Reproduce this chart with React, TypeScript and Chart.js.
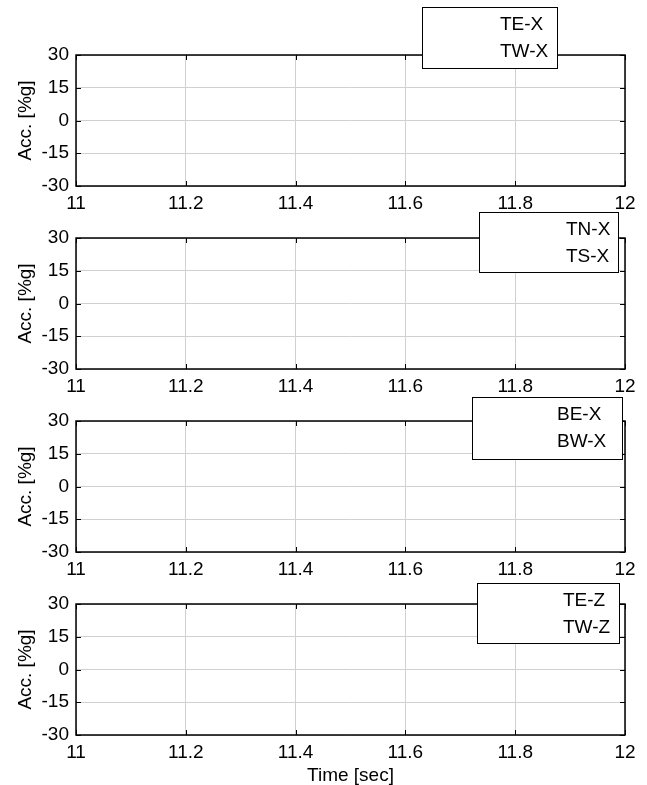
import React, { useEffect, useRef } from "react";
import { Chart, registerables } from "chart.js";

Chart.register(...registerables);

const FONT = '"Liberation Sans", Arial, Helvetica, sans-serif';
const FONT_SIZE = 19;
const PAGE_W = 647;
const PAGE_H = 785;

// Shared axes
const timeMin = 11;
const timeMax = 12;
const timeStep = 0.2;
const accMin = -30;
const accMax = 30;
const accStep = 15;
const timeLabel = "Time [sec]";
const accLabel = "Acc. [%g]";

// Channel names, one pair per panel
const panel1Channels = ["TE-X", "TW-X"];
const panel2Channels = ["TN-X", "TS-X"];
const panel3Channels = ["BE-X", "BW-X"];
const panel4Channels = ["TE-Z", "TW-Z"];

// Samples inside the 11–12 s window (no channel has a sample here)
const timeSamples: number[] = [];
const teXAcc: number[] = [];
const twXAcc: number[] = [];
const tnXAcc: number[] = [];
const tsXAcc: number[] = [];
const beXAcc: number[] = [];
const bwXAcc: number[] = [];
const teZAcc: number[] = [];
const twZAcc: number[] = [];

const seriesColors = ["#0000ff", "#ff0000"];

type LegendBox = { right: number; top: number; width: number; height: number; textLeft: number };
type PanelCfg = {
  channels: string[];
  series: number[][];
  top: number;
  height: number;
  xAxisHeight: number;
  showTimeTitle: boolean;
  legend: LegendBox;
};

const panels: PanelCfg[] = [
  {
    channels: panel1Channels,
    series: [teXAcc, twXAcc],
    top: 55,
    height: 131,
    xAxisHeight: 40,
    showTimeTitle: false,
    legend: { right: 68, top: -48, width: 135, height: 61, textLeft: 78 },
  },
  {
    channels: panel2Channels,
    series: [tnXAcc, tsXAcc],
    top: 238,
    height: 131,
    xAxisHeight: 40,
    showTimeTitle: false,
    legend: { right: 7, top: -26, width: 139, height: 60, textLeft: 87 },
  },
  {
    channels: panel3Channels,
    series: [beXAcc, bwXAcc],
    top: 421,
    height: 131,
    xAxisHeight: 40,
    showTimeTitle: false,
    legend: { right: 3, top: -24, width: 150, height: 62, textLeft: 85 },
  },
  {
    channels: panel4Channels,
    series: [teZAcc, twZAcc],
    top: 604,
    height: 131,
    xAxisHeight: 50,
    showTimeTitle: true,
    legend: { right: 6, top: -21, width: 142, height: 60, textLeft: 86 },
  },
];

function makeFramePlugin(cfg: PanelCfg) {
  return {
    id: "panelFrame",
    afterDraw(chart: any) {
      const { ctx, chartArea } = chart;
      const { left, top, right, bottom } = chartArea;
      const xs = chart.scales.x;
      const ys = chart.scales.y;
      ctx.save();

      // inward tick marks on all four sides
      ctx.strokeStyle = "#000";
      ctx.lineWidth = 1;
      const tickLen = 5;
      ctx.beginPath();
      xs.ticks.forEach((t: any) => {
        const px = Math.round(xs.getPixelForValue(t.value)) + 0.5;
        ctx.moveTo(px, bottom);
        ctx.lineTo(px, bottom - tickLen);
        ctx.moveTo(px, top);
        ctx.lineTo(px, top + tickLen);
      });
      ys.ticks.forEach((t: any) => {
        const py = Math.round(ys.getPixelForValue(t.value)) + 0.5;
        ctx.moveTo(left, py);
        ctx.lineTo(left + tickLen, py);
        ctx.moveTo(right, py);
        ctx.lineTo(right - tickLen, py);
      });
      ctx.stroke();

      // axes box
      ctx.lineWidth = 1.5;
      ctx.strokeRect(left, top, right - left, bottom - top);

      // legend
      const lg = cfg.legend;
      const bx = Math.round(right - lg.right - lg.width);
      const by = Math.round(top + lg.top);
      ctx.fillStyle = "#fff";
      ctx.fillRect(bx, by, lg.width, lg.height);
      ctx.lineWidth = 1;
      ctx.strokeStyle = "#000";
      ctx.strokeRect(bx + 0.5, by + 0.5, lg.width, lg.height);
      ctx.fillStyle = "#000";
      ctx.font = `${FONT_SIZE}px ${FONT}`;
      ctx.textAlign = "left";
      ctx.textBaseline = "middle";
      const rowY = [18, 44.7];
      chart.data.datasets.forEach((ds: any, i: number) => {
        ctx.fillText(ds.label, bx + lg.textLeft, by + rowY[i]);
      });
      ctx.restore();
    },
  };
}

function Panel({ cfg }: { cfg: PanelCfg }) {
  const ref = useRef<HTMLCanvasElement>(null);

  useEffect(() => {
    const canvas = ref.current;
    if (!canvas) return;
    const bottomPad = PAGE_H - (cfg.top + cfg.height) - cfg.xAxisHeight;
    const chart = new Chart(canvas, {
      type: "line",
      data: {
        datasets: cfg.channels.map((name, i) => ({
          label: name,
          data: timeSamples.map((t, k) => ({ x: t, y: cfg.series[i][k] })),
          borderColor: seriesColors[i],
          borderWidth: 1,
          pointRadius: 0,
          fill: false,
        })),
      },
      options: {
        animation: false,
        responsive: false,
        devicePixelRatio: 1,
        layout: {
          padding: { left: 0, right: PAGE_W - 625, top: cfg.top, bottom: bottomPad },
        },
        plugins: {
          legend: { display: false },
          tooltip: { enabled: false },
        },
        scales: {
          x: {
            type: "linear",
            min: timeMin,
            max: timeMax,
            grid: { color: "#d0d0d0", lineWidth: 1, drawTicks: false },
            border: { display: false },
            ticks: {
              stepSize: timeStep,
              autoSkip: false,
              maxRotation: 0,
              padding: 6,
              color: "#000",
              font: { family: FONT, size: FONT_SIZE },
              callback: (v: any) => String(Number(Number(v).toFixed(1))),
            },
            title: {
              display: cfg.showTimeTitle,
              text: timeLabel,
              color: "#000",
              font: { family: FONT, size: FONT_SIZE, lineHeight: 1 },
              padding: { top: 0, bottom: 0 },
            },
            afterFit: (s: any) => {
              s.height = cfg.xAxisHeight;
            },
          },
          y: {
            type: "linear",
            min: accMin,
            max: accMax,
            grid: { color: "#d0d0d0", lineWidth: 1, drawTicks: false },
            border: { display: false },
            ticks: {
              stepSize: accStep,
              padding: 7,
              color: "#000",
              font: { family: FONT, size: FONT_SIZE },
            },
            title: {
              display: true,
              text: accLabel,
              color: "#000",
              font: { family: FONT, size: FONT_SIZE, lineHeight: 1 },
              padding: { top: 16, bottom: 0 },
            },
            afterFit: (s: any) => {
              s.width = 76;
            },
          },
        },
      },
      plugins: [makeFramePlugin(cfg)],
    } as any);
    return () => chart.destroy();
  }, [cfg]);

  return (
    <canvas
      ref={ref}
      width={PAGE_W}
      height={PAGE_H}
      style={{ position: "absolute", left: 0, top: 0, width: PAGE_W, height: PAGE_H }}
    />
  );
}

export default function App() {
  return (
    <div
      style={{
        position: "absolute",
        left: 0,
        top: 0,
        width: PAGE_W,
        height: PAGE_H,
        background: "#fff",
      }}
    >
      {panels.map((p, i) => (
        <Panel key={i} cfg={p} />
      ))}
    </div>
  );
}
